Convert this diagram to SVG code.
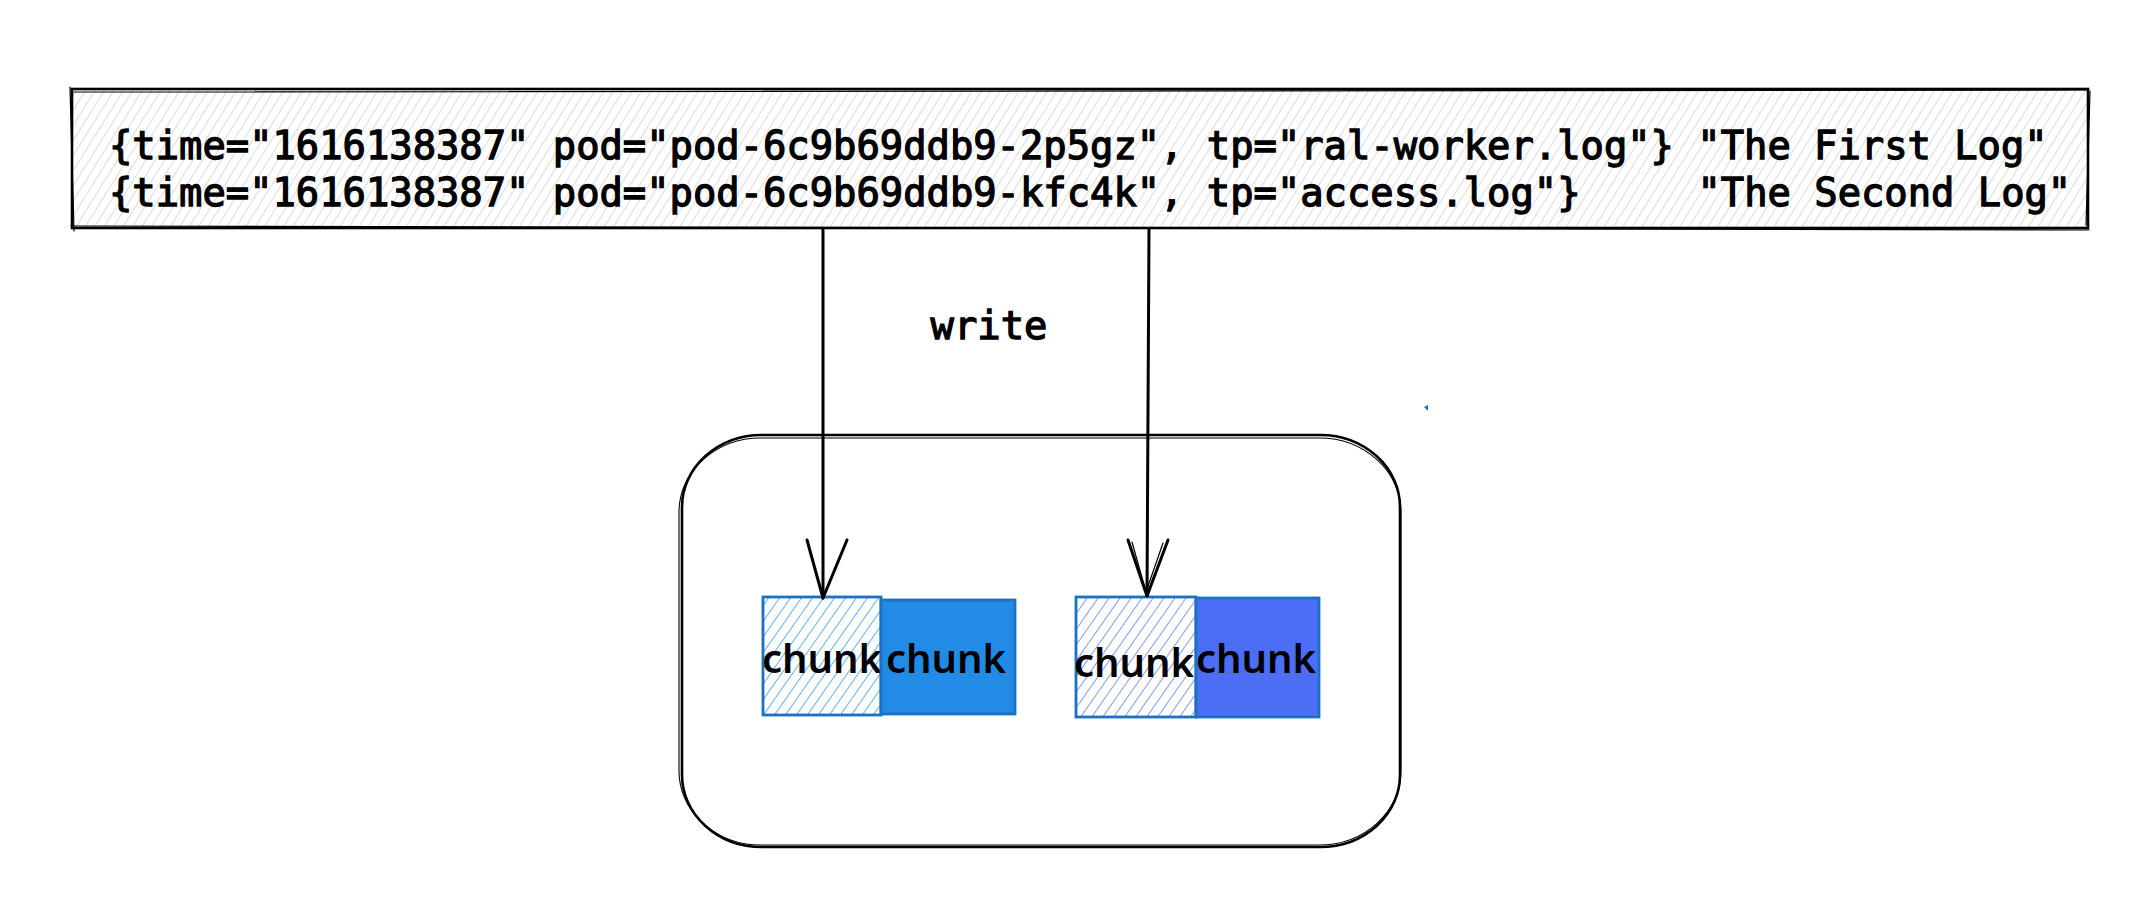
<svg xmlns="http://www.w3.org/2000/svg" width="2140" height="918" viewBox="0 0 2140 918">
  <defs>
    <pattern id="hatchGray" patternUnits="userSpaceOnUse" width="8" height="8" patternTransform="rotate(32)">
      <line x1="0" y1="0" x2="0" y2="8" stroke="#bdbdbd" stroke-width="1.1"/>
    </pattern>
    <pattern id="hatchBlue" patternUnits="userSpaceOnUse" width="9" height="9" patternTransform="rotate(35)">
      <line x1="0" y1="0" x2="0" y2="9" stroke="#4dabf7" stroke-width="1.8"/>
    </pattern>
    <pattern id="hatchIndigo" patternUnits="userSpaceOnUse" width="9" height="9" patternTransform="rotate(35)">
      <line x1="0" y1="0" x2="0" y2="9" stroke="#748ffc" stroke-width="1.8"/>
    </pattern>
  </defs>
  <style>
    .mono { font-family: "DejaVu Sans Mono", "Liberation Mono", monospace; font-weight: normal; font-size: 38.8px; fill: #000; stroke: #000; stroke-width: 1.3px; white-space: pre; }
    .chunk { font-family: "Noto Sans", "Open Sans", sans-serif; font-weight: 600; font-size: 40px; fill: #000; text-anchor: middle; }
    .edge { fill: none; stroke: #000; stroke-width: 3; stroke-linecap: round; stroke-linejoin: round; }
    .sketch { fill: none; stroke: #000; stroke-width: 1.2; stroke-linecap: round; }
    .cbox { stroke: #1971c2; stroke-width: 2.8; }
  </style>
  <rect width="2140" height="918" fill="#ffffff"/>

  <g id="logs">
    <rect x="72" y="89" width="2016" height="139" fill="url(#hatchGray)"/>
    <rect x="72" y="89" width="2016" height="139" fill="none" stroke="#000" stroke-width="2.6"/>
    <path class="sketch" d="M74 92 L2086 90 M70 87 L74 231 M2090 91 L2086 225 M71 226 L2089 230"/>
    <text class="mono" x="109" y="159">{time="1616138387" pod="pod-6c9b69ddb9-2p5gz", tp="ral-worker.log"} "The First Log"</text>
    <text class="mono" x="109" y="206">{time="1616138387" pod="pod-6c9b69ddb9-kfc4k", tp="access.log"}<tspan x="1697.5">"The Second Log"</tspan></text>
  </g>

  <g id="write-label">
    <text class="mono" x="989" y="339" text-anchor="middle">write</text>
  </g>

  <g id="store">
    <rect x="682" y="435" width="718" height="412" rx="80" ry="72" fill="none" stroke="#000" stroke-width="2.6"/>
    <rect x="679" y="438" width="722" height="407" rx="82" ry="74" fill="none" stroke="#000" stroke-width="1.1"/>
  </g>

  <g id="chunk1">
    <rect x="763" y="597" width="118" height="118" fill="url(#hatchBlue)" class="cbox"/>
    <text class="chunk" x="822" y="673">chunk</text>
  </g>
  <g id="chunk2">
    <rect x="881" y="600" width="134" height="114" fill="#228be6" class="cbox"/>
    <text class="chunk" x="946" y="673">chunk</text>
  </g>
  <g id="chunk3">
    <rect x="1076" y="597" width="120" height="120" fill="url(#hatchIndigo)" class="cbox"/>
    <text class="chunk" x="1134" y="677">chunk</text>
  </g>
  <g id="chunk4">
    <rect x="1196" y="598" width="123" height="119" fill="#4c6ef5" class="cbox"/>
    <text class="chunk" x="1256" y="673">chunk</text>
  </g>

  <g id="connectors">
    <path class="edge" d="M823 229 L823 598"/>
    <path class="edge" d="M807 540 L823 598 L847 540"/>
    <path class="edge" d="M1149 229 L1147 596"/>
    <path class="edge" d="M1128 540 L1147 596 L1168 540"/>
    <path class="sketch" d="M1132 542 L1146 592 L1163 543"/>
  </g>

  <g id="dot">
    <path d="M1424 407 L1428 405 L1428 411 Z" fill="#1971c2"/>
  </g>
</svg>
